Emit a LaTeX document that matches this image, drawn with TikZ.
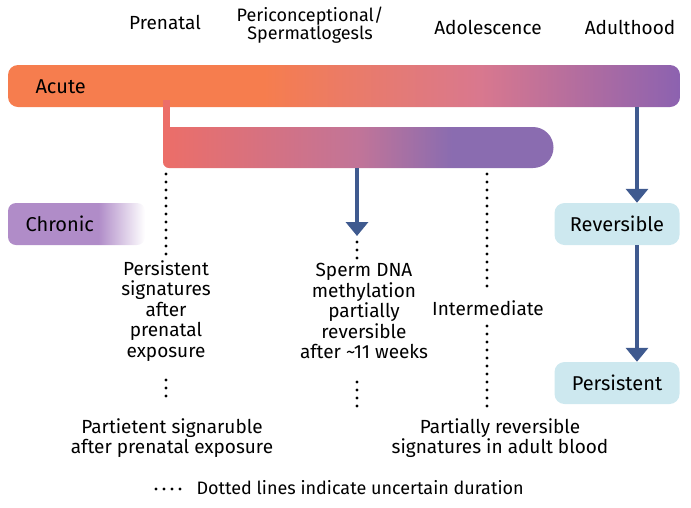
\documentclass[tikz,border=0pt]{standalone}
\usepackage{fontspec}
\setmainfont{Fira Sans}
\usetikzlibrary{arrows.meta}
\definecolor{org}{HTML}{F67D4E}
\definecolor{pnk}{HTML}{D9788E}
\definecolor{pur}{HTML}{8C62B0}
\definecolor{cor}{HTML}{EC6E68}
\definecolor{pur2}{HTML}{8A6CB0}
\definecolor{arr}{HTML}{3F5A8F}
\definecolor{lb}{HTML}{CDE8EF}
\definecolor{chr}{HTML}{B08CC8}
\pgfdeclarehorizontalshading{acuteshade}{100bp}{color(0bp)=(org); color(25bp)=(org); color(44bp)=(org); color(60bp)=(pnk); color(75bp)=(pur); color(100bp)=(pur)}
\pgfdeclarehorizontalshading{barshade}{100bp}{color(0bp)=(cor); color(25bp)=(cor); color(50bp)=(pnk!70!pur2); color(62bp)=(pur2); color(75bp)=(pur2); color(100bp)=(pur2)}
\pgfdeclarehorizontalshading{chronshade}{100bp}{color(0bp)=(chr); color(25bp)=(chr); color(58bp)=(chr); color(75bp)=(white); color(100bp)=(white)}
\tikzset{
  lbl/.style={font=\fontsize{19}{20.5}\selectfont, align=center, text=black},
  dots/.style={line width=3.4pt, dash pattern=on 0pt off 8pt, line cap=round},
  bigarr/.style={arr, line width=4.5pt, -{Triangle[length=14pt,width=22pt]}},
  pill/.style={rounded corners=10pt, fill=lb, minimum width=125pt, minimum height=42pt, font=\fontsize{20}{22}\selectfont}
}
\begin{document}
\begin{tikzpicture}[x=1pt,y=-1pt]
\useasboundingbox (0,0) rectangle (691,507);
\node[lbl] (pre) at (165,22) {Prenatal};
\node[lbl, font=\fontsize{18}{18}\selectfont] (peri) at (310,25) {Periconceptional/\\Spermatlogesls};
\node[lbl] (ado) at (488,27) {Adolescence};
\node[lbl] (adu) at (630,27) {Adulthood};
% acute bar
\shade[shading=acuteshade, rounded corners=10pt] (8,65) rectangle (680,107);
\node[lbl, font=\fontsize{20}{22}\selectfont, anchor=west] (acute) at (32,87) {Acute};
% stem + second bar
\fill[cor] (163,100) rectangle (170,132);
\shade[shading=barshade] (163,127) -- (533,127) arc (-90:90:20.5) -- (169,168) arc (90:180:6) -- cycle;
% chronic
\shade[shading=chronshade, rounded corners=8pt] (8,203) rectangle (145,245);
\node[lbl, font=\fontsize{20}{22}\selectfont, anchor=west] (chron) at (22,224) {Chronic};
% right boxes
\node[pill] (rev) at (617,224) {Reversible};
\node[pill] (per) at (617,383) {Persistent};
\coordinate (a1) at (637,107);
\draw[bigarr] (a1) -- (rev.north -| a1);
\draw[bigarr] (rev.south -| a1) -- (per.north -| a1);
% middle arrow
\coordinate (m0) at (357,168);
\coordinate (m1) at (357,236);
\draw[bigarr] (m0) -- (m1);
% texts
\node[lbl] (t1) at (166,311) {Persistent\\signatures\\after\\prenatal\\exposure};
\node[lbl] (t2) at (364,311) {Sperm DNA\\methylation\\partially\\reversible\\after \textasciitilde11 weeks};
\node[lbl] (t3) at (488,308) {Intermediate};
\node[lbl] (b1) at (172,438) {Partietent signaruble\\after prenatal exposure};
\node[lbl] (b2) at (500,438) {Partially reversible\\signatures in adult blood};
% dotted lines
\draw[dots] (166,174) -- (166,258);
\draw[dots] (166,380) -- (166,396);
\draw[dots] (357,242) -- (357,258);
\draw[dots] (357,382) -- (357,410);
\draw[dots] (487,174) -- (487,290);
\draw[dots] (487,326) -- (487,412);
% legend
\draw[dots] (156,489) -- (182,489);
\node[lbl, font=\fontsize{18}{20}\selectfont, anchor=west] (leg) at (193,488) {Dotted lines indicate uncertain duration};
\end{tikzpicture}
\end{document}
